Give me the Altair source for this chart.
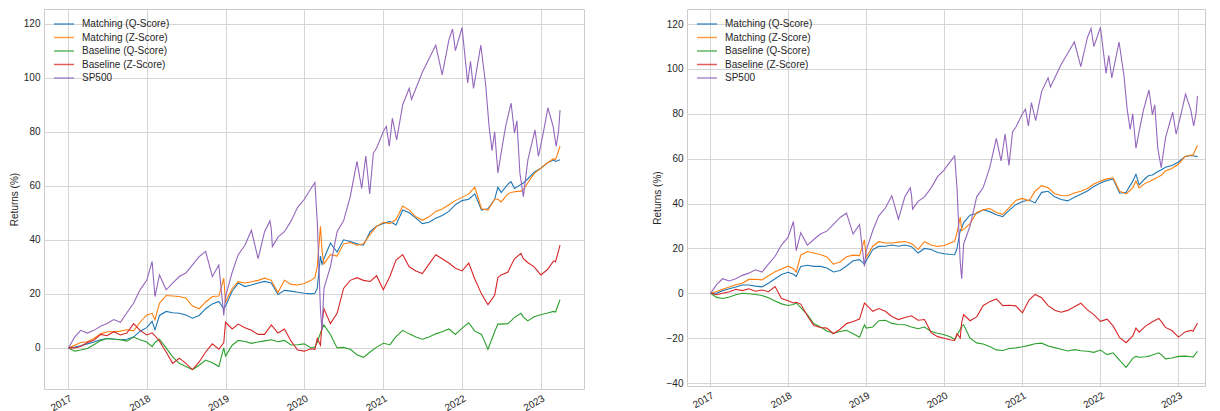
import altair as alt
import pandas as pd

DATES = [
    "2017-01-03", "2017-02-01", "2017-03-01", "2017-04-01", "2017-05-01", "2017-06-01",
    "2017-07-01", "2017-08-01", "2017-09-01", "2017-10-01", "2017-11-01", "2017-12-01",
    "2018-01-01", "2018-01-26", "2018-02-08", "2018-03-01", "2018-04-01", "2018-05-01",
    "2018-06-01", "2018-07-01", "2018-08-01", "2018-09-01", "2018-10-01", "2018-11-01",
    "2018-12-01", "2018-12-24",
    "2019-01-01", "2019-02-01", "2019-03-01", "2019-04-01", "2019-05-01", "2019-06-01",
    "2019-07-01", "2019-08-01", "2019-09-01", "2019-10-01", "2019-11-01", "2019-12-01",
    "2020-01-01", "2020-02-01", "2020-02-19", "2020-03-01", "2020-03-16", "2020-03-23",
    "2020-04-01", "2020-05-01", "2020-06-01", "2020-07-01", "2020-08-01", "2020-09-01",
    "2020-10-01", "2020-11-01", "2020-12-01",
    "2021-01-01", "2021-02-01", "2021-03-01", "2021-04-01", "2021-05-01", "2021-06-01",
    "2021-07-01", "2021-08-01", "2021-09-01", "2021-10-01", "2021-11-01", "2021-12-01",
    "2022-01-01", "2022-02-01", "2022-03-01", "2022-04-01", "2022-05-01", "2022-06-01",
    "2022-06-16", "2022-07-01", "2022-08-01", "2022-08-16", "2022-09-01", "2022-10-01",
    "2022-10-12", "2022-11-01", "2022-12-01",
    "2023-01-01", "2023-02-01", "2023-03-01", "2023-03-10", "2023-03-31",
]

SP500_DATES = [
    "2017-01-03", "2017-02-01", "2017-03-01", "2017-04-01", "2017-05-01", "2017-06-01",
    "2017-07-01", "2017-08-01", "2017-09-01", "2017-10-01", "2017-11-01", "2017-12-01",
    "2018-01-01", "2018-01-26", "2018-02-08", "2018-03-01", "2018-04-01", "2018-05-01",
    "2018-06-01", "2018-07-01", "2018-08-01", "2018-09-01", "2018-10-01", "2018-11-01",
    "2018-12-01", "2018-12-24",
    "2019-01-01", "2019-02-01", "2019-03-01", "2019-04-01", "2019-05-01", "2019-06-01",
    "2019-07-01", "2019-07-26", "2019-08-01", "2019-08-06", "2019-09-01", "2019-10-01",
    "2019-11-01", "2019-12-01",
    "2020-01-01", "2020-02-01", "2020-02-19", "2020-03-01", "2020-03-16", "2020-03-23",
    "2020-04-01", "2020-05-01", "2020-06-01", "2020-07-01", "2020-08-01", "2020-09-01",
    "2020-09-23", "2020-10-01", "2020-10-12", "2020-10-30", "2020-11-16", "2020-12-01",
    "2021-01-01", "2021-01-15", "2021-01-29", "2021-02-12", "2021-03-04", "2021-04-01",
    "2021-05-01", "2021-05-12", "2021-06-01", "2021-07-01", "2021-08-01", "2021-09-01",
    "2021-10-01", "2021-11-01", "2021-11-18", "2021-12-01",
    "2022-01-01", "2022-01-27", "2022-02-09", "2022-02-23", "2022-03-29", "2022-04-21",
    "2022-05-06", "2022-05-20", "2022-06-01", "2022-06-16", "2022-07-06", "2022-07-22",
    "2022-08-16", "2022-09-01", "2022-09-12", "2022-09-26", "2022-10-12", "2022-11-02",
    "2022-12-05", "2022-12-21",
    "2023-01-12", "2023-02-03", "2023-02-27", "2023-03-13", "2023-03-24", "2023-03-31",
]
SP500 = [
    0, 4, 6.5, 5.5, 6.5, 8, 9, 10.5, 9.5, 13, 16.5, 21.5,
    25, 32, 19, 27, 21.5, 24, 26.4, 27.7, 30.7, 33.8, 35.7, 26.4, 30.7, 12,
    19, 28, 34.5, 38, 43.5, 33, 43, 47, 44, 37.5, 41, 43, 47, 52,
    55, 59, 61.2, 47, 14, 6.5, 22, 30, 43, 47, 56, 69, 59, 64, 71, 57, 72, 74,
    80, 82, 74.6, 85, 77, 90, 96, 92, 96, 102, 107, 112, 101, 114, 118, 110,
    118.5, 98, 106, 96, 112, 97, 82, 73, 80, 64.7, 74.6, 82, 90.6, 79.5, 84, 64.7,
    56, 69.6, 80.7, 70.9,
    79.5, 88.8, 82, 74.6, 80, 88,
]

# Left panel
L_MATCH_Q = [
    0, 0.3, 0.8, 1.5, 2.2, 3, 3.5, 3.3, 3, 3.2, 4, 6.2,
    7.5, 9.8, 6.7, 12, 13.5, 13, 12.8, 12.2, 11, 12, 14.5, 16.3, 17.2, 14.5,
    15.5, 21, 24, 22.7, 23.3, 24, 24.6, 24, 19.8, 21.3, 21, 20.6,
    20.2, 20, 20.2, 22, 34, 31, 33, 38.8, 35.5, 40, 39.4, 38.5, 38, 43, 45,
    46, 46.8, 45.5, 51, 50, 48, 46, 46.5, 48, 49, 50.5, 53,
    54.5, 55, 57, 51, 51.5, 55, 59.5, 57.5, 60.5, 61.5, 59, 60.5, 61, 62.5, 65,
    66.5, 68.5, 69.5, 69, 69.6,
]
L_MATCH_Z = [
    0, 1, 2, 2.3, 3.5, 5.2, 6, 6, 6.2, 6.7, 6.3, 9.5,
    12.2, 12.8, 10.4, 16.5, 19.4, 19.2, 19, 18.5, 15.5, 14.5, 17, 19, 19.2, 25.8,
    17, 22, 24.5, 24, 24.5, 25, 25.8, 25, 20.5, 25, 23.5, 23.3,
    23.8, 25, 26, 30, 45, 36, 31, 34.5, 34, 38.5, 39, 38, 38.5, 42, 45,
    46.5, 46, 47.5, 52.5, 51, 48.5, 47.2, 48.5, 50.5, 51.4, 53, 54.5,
    55.7, 57, 59.5, 51.5, 51, 55, 55, 54, 57, 57.5, 57.8, 58, 58.5, 61, 64.5,
    66.5, 68.5, 70, 69.6, 74.6,
]
L_BASE_Q = [
    0, -1.2, -0.8, -0.2, 1.2, 2.7, 3.5, 3.2, 3, 2.5, 4, 3,
    2.2, 0.5, 2, 3.2, 0, -3.3, -5.7, -6.9, -8, -6.4, -4.5, -5.5, -6.9, 0,
    -3, 1, 2.8, 2.4, 1.7, 2.2, 2.6, 3, 2.3, 2.8, 1.1, 1.2,
    1.5, 0, 0.3, 2, 5.5, 7, 8.5, 5, 0, 0.2, -0.5, -2.5, -3.5, -1.5, 0.3,
    1.7, 1.2, 4.2, 6.5, 5.2, 4, 3.2, 4, 5.2, 6, 7, 5,
    7.3, 9.3, 6.2, 5, -0.5, 6, 8.8, 8.8, 9, 10, 11.3, 12.8, 11.5, 10, 11.5,
    12.3, 12.9, 13.5, 13.3, 17.8,
]
L_BASE_Z = [
    0, 0, 0.5, 2, 2.8, 5, 4.5, 6, 4.8, 5.5, 9, 6.5,
    4.8, 5.6, 4.5, 2.5, -1.5, -5.7, -3.8, -5.7, -8, -5.2, -1.5, 1.5, -0.5, 2,
    9.5, 7, 8.8, 7.5, 6.5, 5, 5, 8.5, 5.5, 7, 2.5, -0.8,
    -1.2, -0.3, -0.5, 3.5, 1, 9, 14.5, 9, 12.8, 22, 25, 26, 25, 24.6, 26.7,
    21.5, 26.5, 32.5, 34.5, 30, 28.5, 27.5, 31, 34.5, 33, 31.4, 29.5,
    28.5, 31.4, 25.5, 20, 16, 19.5, 26, 27, 28, 30.5, 33, 35, 33, 31.6, 30,
    27, 29, 32.2, 31.8, 38,
]

# Right panel
R_MATCH_Q = [
    0, 0, 1.2, 2, 2.8, 3.7, 3.7, 3.2, 2.9, 4.5, 6.5, 8.4,
    9.4, 8.5, 7.5, 12, 12.5, 12, 12, 11.3, 9.5, 10.2, 12.2, 14.5, 15, 13,
    14.5, 19.5, 20.9, 21, 21.5, 21, 21.5, 20.8, 18, 20, 19.5, 18.2,
    17.6, 17.3, 17.2, 20, 28, 29, 31.5, 34.8, 35.6, 37.2, 36.4, 35, 34.2, 37.1, 39.5,
    40.9, 41.6, 40.3, 45, 45.5, 43, 41.8, 41.2, 42.8, 44.2, 45.6, 47.6,
    49.2, 50.3, 51, 44.6, 45, 50, 53, 48.3, 51.5, 52.5, 52.7, 54.5, 55, 56.2, 57,
    58.5, 61, 61.4, 61.3, 60.9,
]
R_MATCH_Z = [
    0, 0.8, 1.8, 2.8, 3.8, 4.5, 6.2, 6.3, 6, 7.8, 9.6, 10.8,
    12.1, 11, 9.5, 17, 18.6, 18, 17.3, 16.2, 13, 14, 16.3, 17, 16.8, 23.9,
    16, 21, 23, 22.4, 22.4, 22.8, 23.1, 22.2, 19.6, 23, 21.5, 20.9,
    21.3, 22.5, 23.2, 27, 34, 28, 28.5, 31, 36, 37.2, 37.8, 36, 35.2, 38.3, 41.4,
    42.3, 41.2, 45.5, 48, 47, 44.4, 43.6, 43.5, 44.7, 45.5, 46.7, 48.7,
    50, 51, 51.5, 45.5, 44.3, 47, 50, 47, 49.2, 49.7, 50.5, 52, 52.6, 54.5, 55.6,
    57.6, 61, 61.6, 61.6, 66,
]
R_BASE_Q = [
    0, -1.8, -2.3, -1.6, -0.6, 0, -0.2, -0.5, -1, -2, -3.4, -4.7,
    -5.4, -5, -4.3, -6.4, -9.5, -13.5, -15, -16.8, -17.8, -17, -16.5, -18, -19.6, -14,
    -15.5, -15, -12.2, -12, -13.4, -13.9, -14, -15, -15.8, -15, -17, -17.8,
    -18.5, -19.5, -20.6, -18.8, -16, -14.5, -14, -20, -22.1, -22.6, -23.7, -25.2, -25.5, -24.6, -24.3,
    -23.8, -23.2, -22.5, -22.2, -23.5, -24.2, -24.9, -25.7, -25.1, -25.6, -25.8, -26.3,
    -25.3, -27.3, -26.5, -29.9, -33, -29, -28.1, -28.5, -28.3, -28, -27.5, -26.5, -27.3, -29.2, -28.8,
    -28.1, -28, -28.3, -28.4, -25.8,
]
R_BASE_Z = [
    0, -0.6, 0, 0.7, 1.8, 1.2, 2, 0.9, 1.5, 0.7, 3, -2.3,
    -3.3, -4.3, -4, -4.8, -10, -14.3, -15.2, -15.5, -18, -16, -13.5, -12.6, -11.5, -4.3,
    -5, -8, -6.8, -8, -10.3, -11.7, -10.8, -10, -12, -11.7, -17.5, -19.3,
    -20, -20.8, -21, -18, -19.9, -13, -9.5, -12.2, -10.5, -5.5, -3.7, -2.5, -5.5, -5.3, -5.6,
    -8.7, -3, -0.5, -2, -5.5, -7.5, -8.4, -7.6, -6, -4.4, -7.4, -9.5,
    -12.5, -11.5, -14.5, -19.8, -22, -19, -15.5, -17.3, -14.5, -13.7, -12.7, -11.2, -12.5, -15.2, -16.6,
    -19.5, -17.2, -16.5, -16.9, -13.2,
]

SERIES = ["Matching (Q-Score)", "Matching (Z-Score)", "Baseline (Q-Score)",
          "Baseline (Z-Score)", "SP500"]
COLORS = ["#1f77b4", "#ff7f0e", "#2ca02c", "#d62728", "#9467bd"]
YEARS = list(range(2017, 2024))
LEFT_TICKS = [0, 20, 40, 60, 80, 100, 120]
RIGHT_TICKS = [-40, -20, 0, 20, 40, 60, 80, 100, 120]


def frame(columns):
    rows = []
    pairs = [(DATES, c) for c in columns] + [(SP500_DATES, SP500)]
    for name, (dates, vals) in zip(SERIES, pairs):
        assert len(vals) == len(dates), (name, len(vals), len(dates))
        for d, v in zip(dates, vals):
            rows.append({"date": pd.Timestamp(d), "series": name, "value": v})
    return pd.DataFrame(rows)


def panel(df, xdom, ydom, yticks, width, height):
    return alt.Chart(df).mark_line(strokeWidth=1.1, clip=True).encode(
        x=alt.X("date:T",
                scale=alt.Scale(domain=xdom, nice=False),
                axis=alt.Axis(values=[alt.DateTime(year=y) for y in YEARS],
                              format="%Y", labelAngle=330, labelAlign="right",
                              labelBaseline="top", title=None)),
        y=alt.Y("value:Q",
                scale=alt.Scale(domain=ydom, nice=False, zero=False),
                axis=alt.Axis(values=yticks, title="Returns (%)")),
        color=alt.Color("series:N", sort=SERIES,
                        scale=alt.Scale(domain=SERIES, range=COLORS),
                        legend=alt.Legend(title=None, orient="top-left", offset=9,
                                          padding=0, rowPadding=2.5,
                                          symbolType="M-1,0H3", symbolSize=100,
                                          symbolStrokeWidth=1.5, symbolOpacity=0.75,
                                          labelAlign="left",
                                          labelOffset=17, labelLimit=300)),
    ).properties(width=width, height=height)


left = panel(
    frame([L_MATCH_Q, L_MATCH_Z, L_BASE_Q, L_BASE_Z]),
    [alt.DateTime(year=2016, month=9, date=12), alt.DateTime(year=2023, month=7, date=20)],
    [-15.2, 125.4], LEFT_TICKS, 540, 380)

right = panel(
    frame([R_MATCH_Q, R_MATCH_Z, R_BASE_Q, R_BASE_Z]),
    [alt.DateTime(year=2016, month=9, date=15), alt.DateTime(year=2023, month=5, date=5)],
    [-41.3, 126.7], RIGHT_TICKS, 518, 377)

chart = alt.hconcat(left, right, spacing=66).resolve_scale(
    color="independent"
).resolve_legend(
    color="independent"
).properties(
    padding=0, background="white"
).configure(font="Liberation Sans").configure_view(
    stroke="#cccccc", strokeWidth=1
).configure_axis(
    domain=False, ticks=False, grid=True, gridColor="#d5d5d5", gridWidth=1,
    labelFontSize=10, labelColor="#262626", labelPadding=4,
    titleFontSize=10, titleFontWeight="normal", titleColor="#262626", titlePadding=4,
).configure_legend(
    labelFontSize=10, labelColor="#262626"
)

chart.save("out.html", embed_options={"renderer": "svg", "actions": False})
